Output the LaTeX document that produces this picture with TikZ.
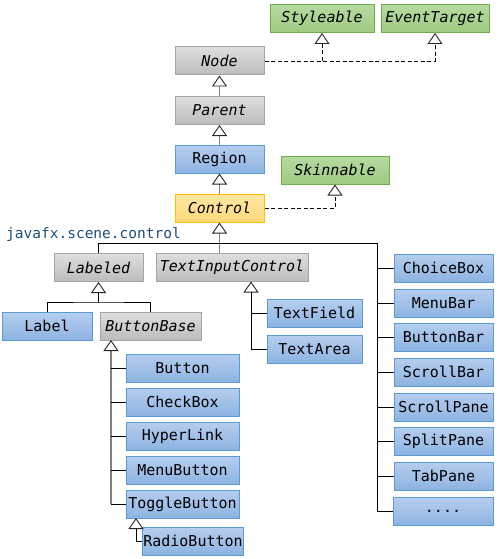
\documentclass[tikz,border=0pt]{standalone}
\usepackage{fontspec}
\setmonofont{DejaVu Sans Mono}
\usetikzlibrary{arrows.meta}

\definecolor{grayTop}{HTML}{DEDEDE}
\definecolor{grayBot}{HTML}{BCBCBC}
\definecolor{grayLine}{HTML}{A5A5A5}
\definecolor{blueTop}{HTML}{B6CEEE}
\definecolor{blueBot}{HTML}{8DB3E2}
\definecolor{blueLine}{HTML}{5B9BD5}
\definecolor{greenTop}{HTML}{B7DAA1}
\definecolor{greenBot}{HTML}{9DCA81}
\definecolor{greenLine}{HTML}{70AD47}
\definecolor{ctrlTop}{HTML}{FFE7A6}
\definecolor{ctrlBot}{HTML}{FFD877}
\definecolor{ctrlLine}{HTML}{FFC000}
\definecolor{pkgBlue}{HTML}{1F4E79}
\definecolor{trunkGray}{HTML}{7F7F7F}

\begin{document}
\begin{tikzpicture}[x=1pt,y=-1pt,
		box/.style={draw=blueLine,line width=1pt,top color=blueTop,bottom color=blueBot,
			minimum height=28pt,inner sep=1pt,font=\ttfamily\fontsize{15}{17}\selectfont},
		abstractbox/.style={box,draw=grayLine,top color=grayTop,bottom color=grayBot,
			font=\ttfamily\itshape\fontsize{15}{17}\selectfont},
		ifacebox/.style={abstractbox,draw=greenLine,top color=greenTop,bottom color=greenBot},
		ctrlbox/.style={abstractbox,draw=ctrlLine,top color=ctrlTop,bottom color=ctrlBot},
		inherit/.style={-{Triangle[open,width=15pt,length=11pt,fill=white,color=black!85,line width=0.9pt]},line width=0.8pt},
		realize/.style={inherit,dash pattern=on 4pt off 2.5pt},
		trunk/.style={trunkGray,line width=1.5pt}]
	\useasboundingbox (0,0) rectangle (499,559);

	% interfaces
	\node[ifacebox,minimum width=104pt] (sty) at (322,18.5) {Styleable};
	\node[ifacebox,minimum width=108pt] (evt) at (435,18.5) {EventTarget};
	\node[ifacebox,minimum width=108pt] (skn) at (335,170) {Skinnable};

	% main line
	\node[abstractbox,minimum width=89pt] (nod) at (219.5,61) {Node};
	\node[abstractbox,minimum width=89pt] (par) at (219.5,110.5) {Parent};
	\node[box,minimum width=89pt] (reg) at (219.5,159) {Region};
	\node[ctrlbox,minimum width=89pt] (ctl) at (219.5,208) {Control};
	\node[text=pkgBlue,font=\ttfamily\fontsize{14.5}{16}\selectfont,inner sep=0pt,anchor=west] (pkg) at (6,234) {javafx.scene.control};

	\node[abstractbox,minimum width=89pt] (lbd) at (98.5,267.5) {Labeled};
	\node[abstractbox,minimum width=152pt] (tic) at (232,267.5) {TextInputControl};
	\node[box,minimum width=90pt] (lbl) at (47,326) {Label};
	\node[abstractbox,minimum width=101pt] (bbs) at (150.5,326) {ButtonBase};

	% buttons
	\node[box,minimum width=113pt] (btn) at (182.5,368) {Button};
	\node[box,minimum width=113pt] (chk) at (182.5,402) {CheckBox};
	\node[box,minimum width=113pt] (hyp) at (182.5,436) {HyperLink};
	\node[box,minimum width=113pt] (mnb) at (182.5,470) {MenuButton};
	\node[box,minimum width=113pt] (tgl) at (182.5,504) {ToggleButton};
	\node[box,minimum width=86pt] (rdo) at (193,541) {RadioButton};

	\node[box,minimum width=95pt] (txf) at (314.5,313) {TextField};
	\node[box,minimum width=95pt] (txa) at (314.5,349) {TextArea};

	% right column
	\node[box,minimum width=99pt] (chb) at (443.5,268) {ChoiceBox};
	\node[box,minimum width=99pt] (mbr) at (443.5,303) {MenuBar};
	\node[box,minimum width=99pt] (bbr) at (443.5,337) {ButtonBar};
	\node[box,minimum width=99pt] (sbr) at (443.5,372) {ScrollBar};
	\node[box,minimum width=99pt] (spn) at (443.5,407) {ScrollPane};
	\node[box,minimum width=99pt] (spl) at (443.5,441) {SplitPane};
	\node[box,minimum width=99pt] (tpn) at (443.5,476) {TabPane};
	\node[box,minimum width=100pt] (mor) at (443,511) {....};

	% inheritance up the main line
	\draw[inherit,trunk] (par) -- (nod);
	\draw[inherit,trunk] (reg) -- (par);
	\draw[inherit,trunk] (ctl) -- (reg);
	\draw[inherit,trunk] (ctl.south |- tic.north) -- (ctl.south);

	% interfaces
	\draw[realize] (nod.east) -| (evt.south);
	\draw[realize] (nod.east -| sty.south) -- (sty.south);
	\draw[realize] (ctl.east) -| (skn.south);

	% bus below Control
	\coordinate (bus) at (377,243);
	\draw[line width=0.8pt] (lbd.north) |- (bus) |- (mor.west);
	\foreach \n in {chb,mbr,bbr,sbr,spn,spl,tpn}
		\draw[line width=0.8pt] (bus |- \n.west) -- (\n.west);

	% Labeled
	\coordinate (lbj) at (98.5,302);
	\draw[line width=0.8pt] (lbl.north) |- (lbj) -| (bbs.north);
	\draw[inherit] (lbj) -- (lbd.south);

	% ButtonBase
	\coordinate (bbt) at (111,340);
	\draw[inherit,trunk,line width=2pt] (bbt |- tgl.west) -- (bbt);
	\foreach \n in {btn,chk,hyp,mnb,tgl}
		\draw[line width=0.8pt] (bbt |- \n.west) -- (\n.west);
	\coordinate (tgb) at (136,518);
	\draw[inherit] (rdo.west) -| (tgb);

	% TextInputControl
	\coordinate (tib) at (251,281.5);
	\draw[inherit] (txa.west) -| (tib);
	\draw[line width=0.8pt] (tib |- txf.west) -- (txf.west);
\end{tikzpicture}
\end{document}
